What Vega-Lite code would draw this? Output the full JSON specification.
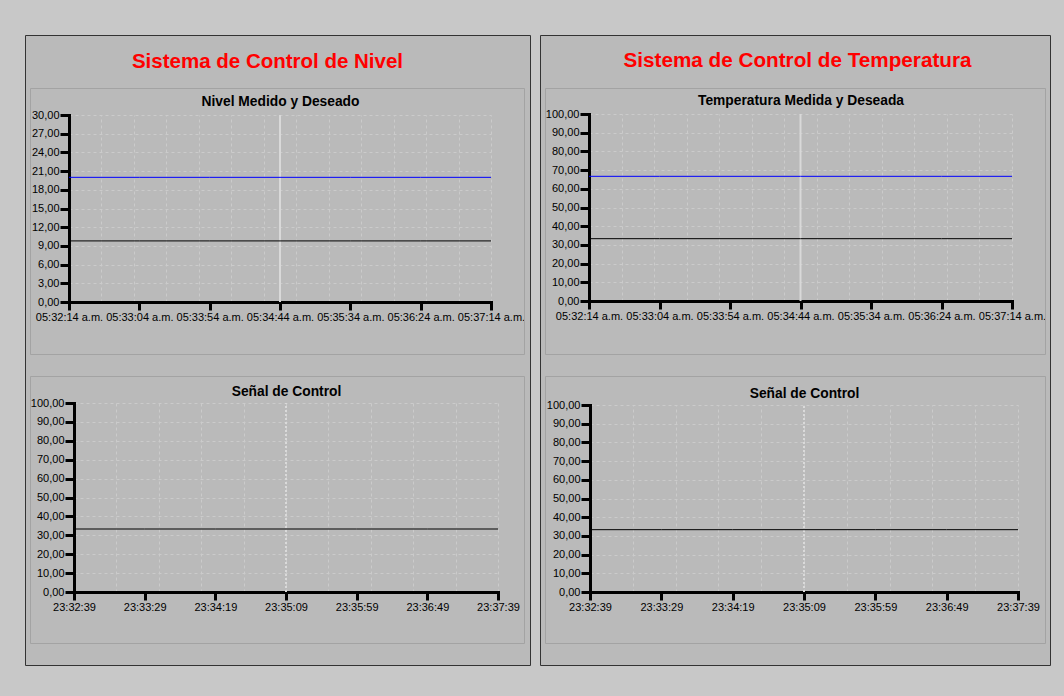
{
  "$schema": "https://vega.github.io/schema/vega-lite/v6.json",
  "background": "#c8c8c8",
  "padding": {"left": 24, "top": 34, "right": 13, "bottom": 31},
  "autosize": {"type": "pad"},
  "spacing": 8,
  "config": {
    "font": "Liberation Sans",
    "axis": {
      "labelFont": "Liberation Sans", "labelFontSize": 11, "labelColor": "#000000",
      "domainColor": "#000000", "domainWidth": 3, "domainCap": "square",
      "tickColor": "#000000", "tickWidth": 3,
      "labelFlush": false, "labelOverlap": false, "labelBound": false,
      "gridColor": "#cbcbcb", "gridDash": [3, 3], "gridWidth": 1, "gridOpacity": 1,
      "titleFont": "Liberation Sans", "titleFontSize": 13.8, "titleFontWeight": "bold", "titleColor": "#000000"
    },
    "title": {"font": "Liberation Sans", "fontWeight": "bold", "color": "#ff0000"}
  },
  "datasets": {
    "nivel": [
      {"t": "2024-01-15T05:32:14", "serie": "Medido", "valor": 9.8},
      {"t": "2024-01-15T05:33:04", "serie": "Medido", "valor": 9.8},
      {"t": "2024-01-15T05:33:54", "serie": "Medido", "valor": 9.8},
      {"t": "2024-01-15T05:34:44", "serie": "Medido", "valor": 9.8},
      {"t": "2024-01-15T05:35:34", "serie": "Medido", "valor": 9.8},
      {"t": "2024-01-15T05:36:24", "serie": "Medido", "valor": 9.8},
      {"t": "2024-01-15T05:37:14", "serie": "Medido", "valor": 9.8},
      {"t": "2024-01-15T05:32:14", "serie": "Deseado", "valor": 20},
      {"t": "2024-01-15T05:33:04", "serie": "Deseado", "valor": 20},
      {"t": "2024-01-15T05:33:54", "serie": "Deseado", "valor": 20},
      {"t": "2024-01-15T05:34:44", "serie": "Deseado", "valor": 20},
      {"t": "2024-01-15T05:35:34", "serie": "Deseado", "valor": 20},
      {"t": "2024-01-15T05:36:24", "serie": "Deseado", "valor": 20},
      {"t": "2024-01-15T05:37:14", "serie": "Deseado", "valor": 20}
    ],
    "temperatura": [
      {"t": "2024-01-15T05:32:14", "serie": "Medido", "valor": 33.33},
      {"t": "2024-01-15T05:33:04", "serie": "Medido", "valor": 33.33},
      {"t": "2024-01-15T05:33:54", "serie": "Medido", "valor": 33.33},
      {"t": "2024-01-15T05:34:44", "serie": "Medido", "valor": 33.33},
      {"t": "2024-01-15T05:35:34", "serie": "Medido", "valor": 33.33},
      {"t": "2024-01-15T05:36:24", "serie": "Medido", "valor": 33.33},
      {"t": "2024-01-15T05:37:14", "serie": "Medido", "valor": 33.33},
      {"t": "2024-01-15T05:32:14", "serie": "Deseado", "valor": 66.67},
      {"t": "2024-01-15T05:33:04", "serie": "Deseado", "valor": 66.67},
      {"t": "2024-01-15T05:33:54", "serie": "Deseado", "valor": 66.67},
      {"t": "2024-01-15T05:34:44", "serie": "Deseado", "valor": 66.67},
      {"t": "2024-01-15T05:35:34", "serie": "Deseado", "valor": 66.67},
      {"t": "2024-01-15T05:36:24", "serie": "Deseado", "valor": 66.67},
      {"t": "2024-01-15T05:37:14", "serie": "Deseado", "valor": 66.67}
    ],
    "senal_nivel": [
      {"t": "2024-01-15T23:32:39", "valor": 33.33},
      {"t": "2024-01-15T23:33:29", "valor": 33.33},
      {"t": "2024-01-15T23:34:19", "valor": 33.33},
      {"t": "2024-01-15T23:35:09", "valor": 33.33},
      {"t": "2024-01-15T23:35:59", "valor": 33.33},
      {"t": "2024-01-15T23:36:49", "valor": 33.33},
      {"t": "2024-01-15T23:37:39", "valor": 33.33}
    ],
    "senal_temperatura": [
      {"t": "2024-01-15T23:32:39", "valor": 33.33},
      {"t": "2024-01-15T23:33:29", "valor": 33.33},
      {"t": "2024-01-15T23:34:19", "valor": 33.33},
      {"t": "2024-01-15T23:35:09", "valor": 33.33},
      {"t": "2024-01-15T23:35:59", "valor": 33.33},
      {"t": "2024-01-15T23:36:49", "valor": 33.33},
      {"t": "2024-01-15T23:37:39", "valor": 33.33}
    ],
    "cursor_medicion": [{"t": "2024-01-15T05:34:44"}],
    "cursor_senal": [{"t": "2024-01-15T23:35:09"}]
  },
  "hconcat": [
    {
      "width": 505,
      "height": 630,
      "view": {"stroke": "#333333", "strokeWidth": 1, "fill": "#bababa"},
      "title": {"text": "Sistema de Control de Nivel", "fontSize": 20.5, "anchor": "middle", "frame": "group", "baseline": "alphabetic", "offset": -53, "dx": -10},
      "resolve": {"scale": {"x": "independent", "y": "independent"}},
      "layer": [
        {
          "data": {"values": [{"recuadro": "Nivel Medido y Deseado"}]},
          "mark": {"type": "rect", "filled": false, "stroke": "#a3a3a3", "strokeWidth": 1},
          "encoding": {
            "x": {"datum": 0, "type": "quantitative", "scale": {"domain": [0, 1], "range": [5.5, 499.5]}, "axis": null},
            "x2": {"datum": 1},
            "y": {"datum": 0, "type": "quantitative", "scale": {"domain": [0, 1], "range": [319.5, 53.5]}, "axis": null},
            "y2": {"datum": 1}
          }
        },
        {
          "data": {"values": [{"recuadro": "Señal de Control"}]},
          "mark": {"type": "rect", "filled": false, "stroke": "#a3a3a3", "strokeWidth": 1},
          "encoding": {
            "x": {"datum": 0, "type": "quantitative", "scale": {"domain": [0, 1], "range": [5.5, 499.5]}, "axis": null},
            "x2": {"datum": 1},
            "y": {"datum": 0, "type": "quantitative", "scale": {"domain": [0, 1], "range": [608.5, 341.5]}, "axis": null},
            "y2": {"datum": 1}
          }
        },
        {
          "data": {"name": "cursor_medicion"},
          "mark": {"type": "rule", "color": "#d9d9d9", "strokeWidth": 2},
          "encoding": {
            "x": {
              "field": "t", "type": "temporal",
              "scale": {"domain": [{"year": 2024, "month": 1, "date": 15, "hours": 5, "minutes": 32, "seconds": 14}, {"year": 2024, "month": 1, "date": 15, "hours": 5, "minutes": 37, "seconds": 14}], "range": [44, 466], "nice": false},
              "axis": {
                "orient": "top", "offset": -80, "grid": true, "labels": false, "ticks": false, "domain": false,
                "minExtent": 0, "maxExtent": 0,
                "title": "Nivel Medido y Deseado", "titlePadding": 10, "titleBaseline": "alphabetic",
                "values": [
                  {"year": 2024, "month": 1, "date": 15, "hours": 5, "minutes": 32, "seconds": 14, "milliseconds": 0},
                  {"year": 2024, "month": 1, "date": 15, "hours": 5, "minutes": 32, "seconds": 37, "milliseconds": 77},
                  {"year": 2024, "month": 1, "date": 15, "hours": 5, "minutes": 33, "seconds": 0, "milliseconds": 154},
                  {"year": 2024, "month": 1, "date": 15, "hours": 5, "minutes": 33, "seconds": 23, "milliseconds": 231},
                  {"year": 2024, "month": 1, "date": 15, "hours": 5, "minutes": 33, "seconds": 46, "milliseconds": 308},
                  {"year": 2024, "month": 1, "date": 15, "hours": 5, "minutes": 34, "seconds": 9, "milliseconds": 385},
                  {"year": 2024, "month": 1, "date": 15, "hours": 5, "minutes": 34, "seconds": 32, "milliseconds": 462},
                  {"year": 2024, "month": 1, "date": 15, "hours": 5, "minutes": 34, "seconds": 55, "milliseconds": 538},
                  {"year": 2024, "month": 1, "date": 15, "hours": 5, "minutes": 35, "seconds": 18, "milliseconds": 615},
                  {"year": 2024, "month": 1, "date": 15, "hours": 5, "minutes": 35, "seconds": 41, "milliseconds": 692},
                  {"year": 2024, "month": 1, "date": 15, "hours": 5, "minutes": 36, "seconds": 4, "milliseconds": 769},
                  {"year": 2024, "month": 1, "date": 15, "hours": 5, "minutes": 36, "seconds": 27, "milliseconds": 846},
                  {"year": 2024, "month": 1, "date": 15, "hours": 5, "minutes": 36, "seconds": 50, "milliseconds": 923},
                  {"year": 2024, "month": 1, "date": 15, "hours": 5, "minutes": 37, "seconds": 14, "milliseconds": 0}
                ]
              }
            },
            "y": {"datum": 0, "type": "quantitative", "scale": {"domain": [0, 30], "range": [267, 80], "nice": false}, "axis": null},
            "y2": {"datum": 30}
          }
        },
        {
          "data": {"name": "nivel"},
          "mark": {"type": "line", "strokeWidth": 1},
          "encoding": {
            "x": {
              "field": "t", "type": "temporal",
              "scale": {"domain": [{"year": 2024, "month": 1, "date": 15, "hours": 5, "minutes": 32, "seconds": 14}, {"year": 2024, "month": 1, "date": 15, "hours": 5, "minutes": 37, "seconds": 14}], "range": [44, 466], "nice": false},
              "axis": {
                "orient": "bottom", "offset": -363, "grid": false, "title": null, "tickSize": 8, "labelPadding": 1,
                "labelExpr": "timeFormat(datum.value, '%I:%M:%S') + ' a.m.'",
                "values": [
                  {"year": 2024, "month": 1, "date": 15, "hours": 5, "minutes": 32, "seconds": 14},
                  {"year": 2024, "month": 1, "date": 15, "hours": 5, "minutes": 33, "seconds": 4},
                  {"year": 2024, "month": 1, "date": 15, "hours": 5, "minutes": 33, "seconds": 54},
                  {"year": 2024, "month": 1, "date": 15, "hours": 5, "minutes": 34, "seconds": 44},
                  {"year": 2024, "month": 1, "date": 15, "hours": 5, "minutes": 35, "seconds": 34},
                  {"year": 2024, "month": 1, "date": 15, "hours": 5, "minutes": 36, "seconds": 24},
                  {"year": 2024, "month": 1, "date": 15, "hours": 5, "minutes": 37, "seconds": 14}
                ]
              }
            },
            "y": {
              "field": "valor", "type": "quantitative",
              "scale": {"domain": [0, 30], "range": [267, 80], "nice": false},
              "axis": {
                "orient": "left", "offset": -44, "grid": true, "title": null, "tickSize": 9, "labelPadding": 1,
                "values": [0, 3, 6, 9, 12, 15, 18, 21, 24, 27, 30],
                "labelExpr": "replace(format(datum.value, '.2f'), '.', ',')"
              }
            },
            "color": {"field": "serie", "type": "nominal", "scale": {"domain": ["Medido", "Deseado"], "range": ["#000000", "#0000ff"]}, "legend": null}
          }
        },
        {
          "data": {"name": "cursor_senal"},
          "mark": {"type": "rule", "color": "#dadada", "strokeWidth": 2, "strokeDash": [2, 2]},
          "encoding": {
            "x": {
              "field": "t", "type": "temporal",
              "scale": {"domain": [{"year": 2024, "month": 1, "date": 15, "hours": 23, "minutes": 32, "seconds": 39}, {"year": 2024, "month": 1, "date": 15, "hours": 23, "minutes": 37, "seconds": 39}], "range": [49, 473], "nice": false},
              "axis": {
                "orient": "top", "offset": -368, "grid": true, "labels": false, "ticks": false, "domain": false,
                "minExtent": 0, "maxExtent": 0,
                "title": "Señal de Control", "titlePadding": 8, "titleBaseline": "alphabetic",
                "values": [
                  {"year": 2024, "month": 1, "date": 15, "hours": 23, "minutes": 32, "seconds": 39},
                  {"year": 2024, "month": 1, "date": 15, "hours": 23, "minutes": 33, "seconds": 9},
                  {"year": 2024, "month": 1, "date": 15, "hours": 23, "minutes": 33, "seconds": 39},
                  {"year": 2024, "month": 1, "date": 15, "hours": 23, "minutes": 34, "seconds": 9},
                  {"year": 2024, "month": 1, "date": 15, "hours": 23, "minutes": 34, "seconds": 39},
                  {"year": 2024, "month": 1, "date": 15, "hours": 23, "minutes": 35, "seconds": 9},
                  {"year": 2024, "month": 1, "date": 15, "hours": 23, "minutes": 35, "seconds": 39},
                  {"year": 2024, "month": 1, "date": 15, "hours": 23, "minutes": 36, "seconds": 9},
                  {"year": 2024, "month": 1, "date": 15, "hours": 23, "minutes": 36, "seconds": 39},
                  {"year": 2024, "month": 1, "date": 15, "hours": 23, "minutes": 37, "seconds": 9},
                  {"year": 2024, "month": 1, "date": 15, "hours": 23, "minutes": 37, "seconds": 39}
                ]
              }
            },
            "y": {"datum": 0, "type": "quantitative", "scale": {"domain": [0, 100], "range": [557, 368], "nice": false}, "axis": null},
            "y2": {"datum": 100}
          }
        },
        {
          "data": {"name": "senal_nivel"},
          "mark": {"type": "line", "strokeWidth": 1, "color": "#000000"},
          "encoding": {
            "x": {
              "field": "t", "type": "temporal",
              "scale": {"domain": [{"year": 2024, "month": 1, "date": 15, "hours": 23, "minutes": 32, "seconds": 39}, {"year": 2024, "month": 1, "date": 15, "hours": 23, "minutes": 37, "seconds": 39}], "range": [49, 473], "nice": false},
              "axis": {
                "orient": "bottom", "offset": -73, "grid": false, "title": null, "tickSize": 8, "labelPadding": 1,
                "format": "%H:%M:%S",
                "values": [
                  {"year": 2024, "month": 1, "date": 15, "hours": 23, "minutes": 32, "seconds": 39},
                  {"year": 2024, "month": 1, "date": 15, "hours": 23, "minutes": 33, "seconds": 29},
                  {"year": 2024, "month": 1, "date": 15, "hours": 23, "minutes": 34, "seconds": 19},
                  {"year": 2024, "month": 1, "date": 15, "hours": 23, "minutes": 35, "seconds": 9},
                  {"year": 2024, "month": 1, "date": 15, "hours": 23, "minutes": 35, "seconds": 59},
                  {"year": 2024, "month": 1, "date": 15, "hours": 23, "minutes": 36, "seconds": 49},
                  {"year": 2024, "month": 1, "date": 15, "hours": 23, "minutes": 37, "seconds": 39}
                ]
              }
            },
            "y": {
              "field": "valor", "type": "quantitative",
              "scale": {"domain": [0, 100], "range": [557, 368], "nice": false},
              "axis": {
                "orient": "left", "offset": -49, "grid": true, "title": null, "tickSize": 9, "labelPadding": 1,
                "values": [0, 10, 20, 30, 40, 50, 60, 70, 80, 90, 100],
                "labelExpr": "replace(format(datum.value, '.2f'), '.', ',')"
              }
            }
          }
        }
      ]
    },
    {
      "width": 510,
      "height": 630,
      "view": {"stroke": "#333333", "strokeWidth": 1, "fill": "#bababa"},
      "title": {"text": "Sistema de Control de Temperatura", "fontSize": 20.7, "anchor": "middle", "frame": "group", "baseline": "alphabetic", "offset": -53, "dx": 2.5},
      "resolve": {"scale": {"x": "independent", "y": "independent"}},
      "layer": [
        {
          "data": {"values": [{"recuadro": "Temperatura Medida y Deseada"}]},
          "mark": {"type": "rect", "filled": false, "stroke": "#a3a3a3", "strokeWidth": 1},
          "encoding": {
            "x": {"datum": 0, "type": "quantitative", "scale": {"domain": [0, 1], "range": [5.5, 505.5]}, "axis": null},
            "x2": {"datum": 1},
            "y": {"datum": 0, "type": "quantitative", "scale": {"domain": [0, 1], "range": [319.5, 53.5]}, "axis": null},
            "y2": {"datum": 1}
          }
        },
        {
          "data": {"values": [{"recuadro": "Señal de Control"}]},
          "mark": {"type": "rect", "filled": false, "stroke": "#a3a3a3", "strokeWidth": 1},
          "encoding": {
            "x": {"datum": 0, "type": "quantitative", "scale": {"domain": [0, 1], "range": [5.5, 505.5]}, "axis": null},
            "x2": {"datum": 1},
            "y": {"datum": 0, "type": "quantitative", "scale": {"domain": [0, 1], "range": [608.5, 341.5]}, "axis": null},
            "y2": {"datum": 1}
          }
        },
        {
          "data": {"name": "cursor_medicion"},
          "mark": {"type": "rule", "color": "#d9d9d9", "strokeWidth": 2},
          "encoding": {
            "x": {
              "field": "t", "type": "temporal",
              "scale": {"domain": [{"year": 2024, "month": 1, "date": 15, "hours": 5, "minutes": 32, "seconds": 14}, {"year": 2024, "month": 1, "date": 15, "hours": 5, "minutes": 37, "seconds": 14}], "range": [49, 472], "nice": false},
              "axis": {
                "orient": "top", "offset": -79, "grid": true, "labels": false, "ticks": false, "domain": false,
                "minExtent": 0, "maxExtent": 0,
                "title": "Temperatura Medida y Deseada", "titlePadding": 10, "titleBaseline": "alphabetic",
                "values": [
                  {"year": 2024, "month": 1, "date": 15, "hours": 5, "minutes": 32, "seconds": 14, "milliseconds": 0},
                  {"year": 2024, "month": 1, "date": 15, "hours": 5, "minutes": 32, "seconds": 37, "milliseconds": 77},
                  {"year": 2024, "month": 1, "date": 15, "hours": 5, "minutes": 33, "seconds": 0, "milliseconds": 154},
                  {"year": 2024, "month": 1, "date": 15, "hours": 5, "minutes": 33, "seconds": 23, "milliseconds": 231},
                  {"year": 2024, "month": 1, "date": 15, "hours": 5, "minutes": 33, "seconds": 46, "milliseconds": 308},
                  {"year": 2024, "month": 1, "date": 15, "hours": 5, "minutes": 34, "seconds": 9, "milliseconds": 385},
                  {"year": 2024, "month": 1, "date": 15, "hours": 5, "minutes": 34, "seconds": 32, "milliseconds": 462},
                  {"year": 2024, "month": 1, "date": 15, "hours": 5, "minutes": 34, "seconds": 55, "milliseconds": 538},
                  {"year": 2024, "month": 1, "date": 15, "hours": 5, "minutes": 35, "seconds": 18, "milliseconds": 615},
                  {"year": 2024, "month": 1, "date": 15, "hours": 5, "minutes": 35, "seconds": 41, "milliseconds": 692},
                  {"year": 2024, "month": 1, "date": 15, "hours": 5, "minutes": 36, "seconds": 4, "milliseconds": 769},
                  {"year": 2024, "month": 1, "date": 15, "hours": 5, "minutes": 36, "seconds": 27, "milliseconds": 846},
                  {"year": 2024, "month": 1, "date": 15, "hours": 5, "minutes": 36, "seconds": 50, "milliseconds": 923},
                  {"year": 2024, "month": 1, "date": 15, "hours": 5, "minutes": 37, "seconds": 14, "milliseconds": 0}
                ]
              }
            },
            "y": {"datum": 0, "type": "quantitative", "scale": {"domain": [0, 100], "range": [266, 79], "nice": false}, "axis": null},
            "y2": {"datum": 100}
          }
        },
        {
          "data": {"name": "temperatura"},
          "mark": {"type": "line", "strokeWidth": 1},
          "encoding": {
            "x": {
              "field": "t", "type": "temporal",
              "scale": {"domain": [{"year": 2024, "month": 1, "date": 15, "hours": 5, "minutes": 32, "seconds": 14}, {"year": 2024, "month": 1, "date": 15, "hours": 5, "minutes": 37, "seconds": 14}], "range": [49, 472], "nice": false},
              "axis": {
                "orient": "bottom", "offset": -364, "grid": false, "title": null, "tickSize": 8, "labelPadding": 1,
                "labelExpr": "timeFormat(datum.value, '%I:%M:%S') + ' a.m.'",
                "values": [
                  {"year": 2024, "month": 1, "date": 15, "hours": 5, "minutes": 32, "seconds": 14},
                  {"year": 2024, "month": 1, "date": 15, "hours": 5, "minutes": 33, "seconds": 4},
                  {"year": 2024, "month": 1, "date": 15, "hours": 5, "minutes": 33, "seconds": 54},
                  {"year": 2024, "month": 1, "date": 15, "hours": 5, "minutes": 34, "seconds": 44},
                  {"year": 2024, "month": 1, "date": 15, "hours": 5, "minutes": 35, "seconds": 34},
                  {"year": 2024, "month": 1, "date": 15, "hours": 5, "minutes": 36, "seconds": 24},
                  {"year": 2024, "month": 1, "date": 15, "hours": 5, "minutes": 37, "seconds": 14}
                ]
              }
            },
            "y": {
              "field": "valor", "type": "quantitative",
              "scale": {"domain": [0, 100], "range": [266, 79], "nice": false},
              "axis": {
                "orient": "left", "offset": -49, "grid": true, "title": null, "tickSize": 9, "labelPadding": 1,
                "values": [0, 10, 20, 30, 40, 50, 60, 70, 80, 90, 100],
                "labelExpr": "replace(format(datum.value, '.2f'), '.', ',')"
              }
            },
            "color": {"field": "serie", "type": "nominal", "scale": {"domain": ["Medido", "Deseado"], "range": ["#000000", "#0000ff"]}, "legend": null}
          }
        },
        {
          "data": {"name": "cursor_senal"},
          "mark": {"type": "rule", "color": "#dadada", "strokeWidth": 2, "strokeDash": [2, 2]},
          "encoding": {
            "x": {
              "field": "t", "type": "temporal",
              "scale": {"domain": [{"year": 2024, "month": 1, "date": 15, "hours": 23, "minutes": 32, "seconds": 39}, {"year": 2024, "month": 1, "date": 15, "hours": 23, "minutes": 37, "seconds": 39}], "range": [50, 478], "nice": false},
              "axis": {
                "orient": "top", "offset": -370, "grid": true, "labels": false, "ticks": false, "domain": false,
                "minExtent": 0, "maxExtent": 0,
                "title": "Señal de Control", "titlePadding": 8, "titleBaseline": "alphabetic",
                "values": [
                  {"year": 2024, "month": 1, "date": 15, "hours": 23, "minutes": 32, "seconds": 39},
                  {"year": 2024, "month": 1, "date": 15, "hours": 23, "minutes": 33, "seconds": 9},
                  {"year": 2024, "month": 1, "date": 15, "hours": 23, "minutes": 33, "seconds": 39},
                  {"year": 2024, "month": 1, "date": 15, "hours": 23, "minutes": 34, "seconds": 9},
                  {"year": 2024, "month": 1, "date": 15, "hours": 23, "minutes": 34, "seconds": 39},
                  {"year": 2024, "month": 1, "date": 15, "hours": 23, "minutes": 35, "seconds": 9},
                  {"year": 2024, "month": 1, "date": 15, "hours": 23, "minutes": 35, "seconds": 39},
                  {"year": 2024, "month": 1, "date": 15, "hours": 23, "minutes": 36, "seconds": 9},
                  {"year": 2024, "month": 1, "date": 15, "hours": 23, "minutes": 36, "seconds": 39},
                  {"year": 2024, "month": 1, "date": 15, "hours": 23, "minutes": 37, "seconds": 9},
                  {"year": 2024, "month": 1, "date": 15, "hours": 23, "minutes": 37, "seconds": 39}
                ]
              }
            },
            "y": {"datum": 0, "type": "quantitative", "scale": {"domain": [0, 100], "range": [557, 370], "nice": false}, "axis": null},
            "y2": {"datum": 100}
          }
        },
        {
          "data": {"name": "senal_temperatura"},
          "mark": {"type": "line", "strokeWidth": 1, "color": "#000000"},
          "encoding": {
            "x": {
              "field": "t", "type": "temporal",
              "scale": {"domain": [{"year": 2024, "month": 1, "date": 15, "hours": 23, "minutes": 32, "seconds": 39}, {"year": 2024, "month": 1, "date": 15, "hours": 23, "minutes": 37, "seconds": 39}], "range": [50, 478], "nice": false},
              "axis": {
                "orient": "bottom", "offset": -73, "grid": false, "title": null, "tickSize": 8, "labelPadding": 1,
                "format": "%H:%M:%S",
                "values": [
                  {"year": 2024, "month": 1, "date": 15, "hours": 23, "minutes": 32, "seconds": 39},
                  {"year": 2024, "month": 1, "date": 15, "hours": 23, "minutes": 33, "seconds": 29},
                  {"year": 2024, "month": 1, "date": 15, "hours": 23, "minutes": 34, "seconds": 19},
                  {"year": 2024, "month": 1, "date": 15, "hours": 23, "minutes": 35, "seconds": 9},
                  {"year": 2024, "month": 1, "date": 15, "hours": 23, "minutes": 35, "seconds": 59},
                  {"year": 2024, "month": 1, "date": 15, "hours": 23, "minutes": 36, "seconds": 49},
                  {"year": 2024, "month": 1, "date": 15, "hours": 23, "minutes": 37, "seconds": 39}
                ]
              }
            },
            "y": {
              "field": "valor", "type": "quantitative",
              "scale": {"domain": [0, 100], "range": [557, 370], "nice": false},
              "axis": {
                "orient": "left", "offset": -50, "grid": true, "title": null, "tickSize": 9, "labelPadding": 1,
                "values": [0, 10, 20, 30, 40, 50, 60, 70, 80, 90, 100],
                "labelExpr": "replace(format(datum.value, '.2f'), '.', ',')"
              }
            }
          }
        }
      ]
    }
  ]
}
